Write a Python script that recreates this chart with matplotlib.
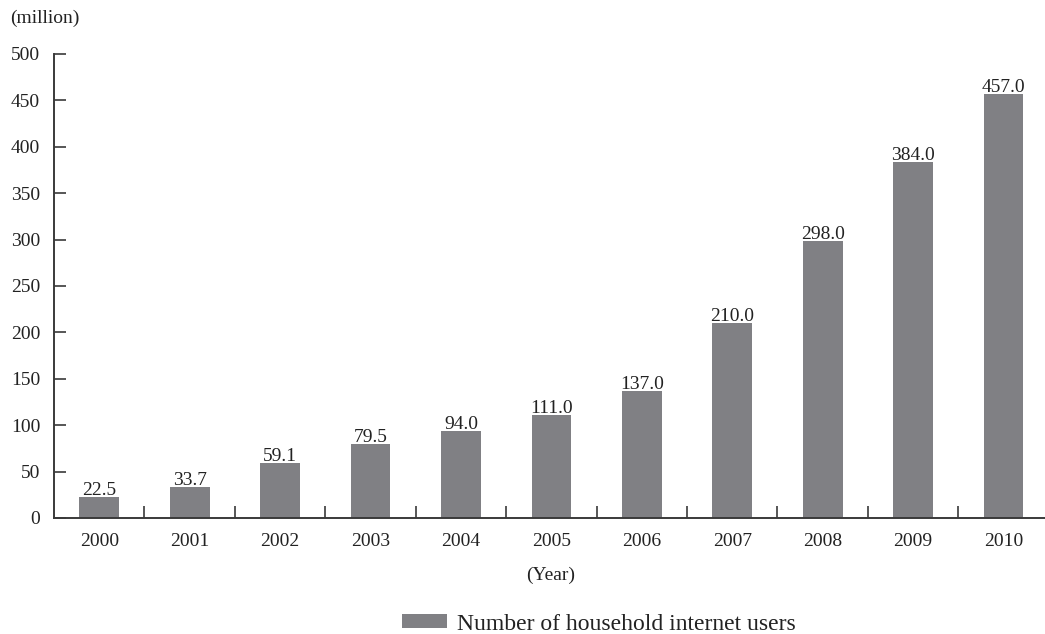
import matplotlib
matplotlib.use("Agg")
import matplotlib.pyplot as plt
from matplotlib.patches import Patch

# data
years = ["2000", "2001", "2002", "2003", "2004", "2005",
         "2006", "2007", "2008", "2009", "2010"]
users = [22.5, 33.7, 59.1, 79.5, 94.0, 111.0, 137.0, 210.0, 298.0, 384.0, 457.0]
yticks = [0, 50, 100, 150, 200, 250, 300, 350, 400, 450, 500]

plt.rcParams['font.family'] = ['Liberation Serif', 'DejaVu Serif']

bar_color = "#808084"
axis_color = "#3a3a3a"
text_color = "#222222"

fig = plt.figure(figsize=(10.45, 6.34), dpi=100)
ax = fig.add_axes([54 / 1045, (634 - 518) / 634, (1045 - 54) / 1045, (518 - 54) / 634])

x = list(range(len(years)))
ax.bar(x, users, width=0.44, color=bar_color, zorder=2)

for xi, v in zip(x, users):
    ax.text(xi, v + 2.2, f"{v:.1f}", ha="center", va="baseline", fontsize=14, color=text_color)

ax.set_xlim(-0.5, 10.458)
ax.set_ylim(0, 500)
ax.set_yticks(yticks)
ax.set_xticks(x)
ax.set_xticklabels(years)
ax.set_xticks([i + 0.5 for i in range(len(years) - 1)], minor=True)

ax.tick_params(axis="y", direction="in", length=8.6, width=1.2, color=axis_color,
               labelsize=14, pad=10, labelcolor=text_color)
ax.tick_params(axis="x", which="major", length=0, labelsize=14, pad=11, labelcolor=text_color)
ax.tick_params(axis="x", which="minor", direction="in", length=8.6, width=1.2, color=axis_color)

for s in ["top", "right"]:
    ax.spines[s].set_visible(False)
for s in ["left", "bottom"]:
    ax.spines[s].set_color(axis_color)
    ax.spines[s].set_linewidth(1.4)

fig.text(10 / 1045, 1 - 18 / 634, "(million)", ha="left", va="center", fontsize=14, color=text_color)
fig.text(551 / 1045, 1 - 575 / 634, "(Year)", ha="center", va="center", fontsize=14, color=text_color)

handles = [Patch(facecolor=bar_color, label="Number of household internet users")]
fig.legend(handles=handles, loc="center", bbox_to_anchor=(599 / 1045, 1 - 624 / 634),
           frameon=False, fontsize=17, handlelength=1.9, handleheight=0.5, handletextpad=0.42,
           labelcolor=text_color)

fig.savefig("out.png", dpi=100)
